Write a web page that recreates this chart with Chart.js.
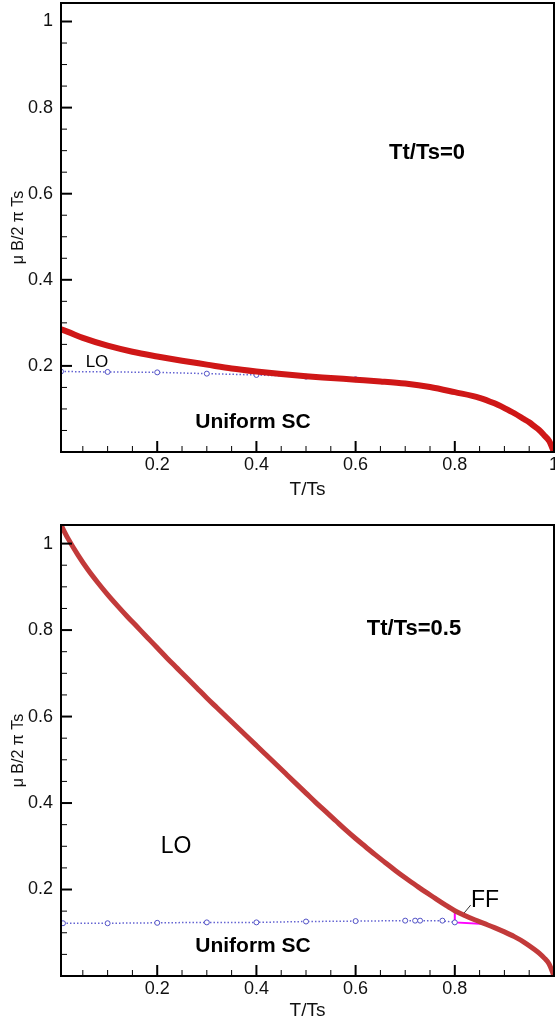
<!DOCTYPE html>
<html>
<head>
<meta charset="utf-8">
<script src="https://cdn.jsdelivr.net/npm/chart.js@4.4.1/dist/chart.umd.min.js"></script>
<style>
    html, body { margin: 0; padding: 0; background: #fff; }
    body { width: 555px; height: 1025px; position: relative; overflow: hidden; }
    canvas { position: absolute; left: 0; }
    #topChart { top: 0; }
    #bottomChart { top: 512px; }
</style>
</head>
<body>
<canvas id="topChart" width="555" height="505"></canvas>
<canvas id="bottomChart" width="555" height="513"></canvas>
<script>
// tick labels
const xTickValues = [0.2, 0.4, 0.6, 0.8, 1];
const xTickValuesBottom = [0.2, 0.4, 0.6, 0.8];
const yTickValues = [0.2, 0.4, 0.6, 0.8, 1];

// Tt/Ts=0 panel
const topRedX = [0.006, 0.02, 0.05, 0.1, 0.15, 0.2, 0.25, 0.3, 0.35, 0.4, 0.45, 0.5, 0.55, 0.6, 0.65, 0.7, 0.75, 0.8, 0.85, 0.88, 0.9, 0.92, 0.94, 0.95, 0.96, 0.97, 0.98, 0.99, 1.0];
const topRedY = [0.285, 0.279, 0.265, 0.247, 0.233, 0.222, 0.212, 0.203, 0.194, 0.187, 0.181, 0.176, 0.172, 0.168, 0.164, 0.159, 0.151, 0.139, 0.126, 0.113, 0.102, 0.090, 0.076, 0.069, 0.060, 0.051, 0.039, 0.026, 0.0];
const topBlueX = [0.006, 0.1, 0.2, 0.3, 0.4, 0.5, 0.6];
const topBlueY = [0.187, 0.186, 0.185, 0.182, 0.179, 0.175, 0.169];

// Tt/Ts=0.5 panel
const botRedX = [0.006, 0.02, 0.04, 0.06, 0.08, 0.1, 0.12, 0.14, 0.16, 0.18, 0.2, 0.22, 0.24, 0.26, 0.28, 0.3, 0.32, 0.34, 0.36, 0.38, 0.4, 0.42, 0.44, 0.46, 0.48, 0.5, 0.52, 0.54, 0.56, 0.58, 0.6, 0.62, 0.64, 0.66, 0.68, 0.7, 0.72, 0.74, 0.76, 0.78, 0.8, 0.82, 0.84, 0.86, 0.88, 0.9, 0.92, 0.94, 0.96, 0.97, 0.98, 0.99, 1.0];
const botRedY = [1.043, 1.012, 0.974, 0.940, 0.910, 0.882, 0.856, 0.831, 0.807, 0.783, 0.759, 0.735, 0.712, 0.689, 0.666, 0.643, 0.621, 0.599, 0.577, 0.555, 0.533, 0.511, 0.489, 0.467, 0.445, 0.423, 0.401, 0.380, 0.359, 0.338, 0.318, 0.299, 0.280, 0.262, 0.244, 0.227, 0.211, 0.195, 0.180, 0.165, 0.151, 0.140, 0.130, 0.121, 0.112, 0.102, 0.091, 0.078, 0.062, 0.053, 0.042, 0.028, 0.0];
const botBlueX = [0.01, 0.1, 0.2, 0.3, 0.4, 0.5, 0.6, 0.7, 0.72, 0.73, 0.775, 0.8];
const botBlueY = [0.122, 0.122, 0.123, 0.124, 0.124, 0.126, 0.127, 0.128, 0.128, 0.128, 0.128, 0.124];
const ffX = [0.8, 0.8, 0.859];
const ffY = [0.151, 0.124, 0.120];
const ffLeaderX = [0.814, 0.832];
const ffLeaderY = [0.139, 0.164];

const FONT = "'Liberation Sans', Arial, sans-serif";

function pairs(xs, ys) {
    return xs.map((x, i) => ({ x: x, y: ys[i] }));
}

// black box + inside ticks (major and minor) like the original plot
const frameTicks = {
    id: 'frameTicks',
    afterDatasetsDraw(chart) {
        const ctx = chart.ctx;
        const a = chart.chartArea;
        const xs = chart.scales.x;
        const ys = chart.scales.y;
        ctx.save();
        ctx.strokeStyle = '#000';
        for (let i = 1; i <= 20; i++) {
            const v = i * 0.05;
            const major = i % 4 === 0;
            const len = major ? 11 : 6;
            ctx.lineWidth = major ? 2 : 1;
            if (v >= xs.min && v <= xs.max) {
                const px = xs.getPixelForValue(v);
                ctx.beginPath();
                ctx.moveTo(px, a.bottom);
                ctx.lineTo(px, a.bottom - len);
                ctx.stroke();
            }
            if (v > ys.min && v <= ys.max) {
                const py = ys.getPixelForValue(v);
                ctx.beginPath();
                ctx.moveTo(a.left, py);
                ctx.lineTo(a.left + len, py);
                ctx.stroke();
            }
        }
        ctx.lineWidth = 2;
        ctx.strokeRect(a.left, a.top, a.right - a.left, a.bottom - a.top);
        ctx.restore();
    }
};

// free text labels, positions given in canvas pixels
const textLabels = {
    id: 'textLabels',
    afterDraw(chart) {
        const items = chart.options.plugins.textLabels.items || [];
        const ctx = chart.ctx;
        ctx.save();
        ctx.fillStyle = '#000';
        ctx.textAlign = 'center';
        ctx.textBaseline = 'middle';
        items.forEach((t) => {
            ctx.font = t.font;
            ctx.fillText(t.text, t.x, t.y);
        });
        ctx.restore();
    }
};

function makeOptions(cfg) {
    return {
        responsive: false,
        animation: false,
        devicePixelRatio: 1,
        layout: { autoPadding: false, padding: { left: 0, right: 1, top: cfg.padTop, bottom: 0 } },
        plugins: {
            legend: { display: false },
            tooltip: { enabled: false },
            textLabels: { items: cfg.texts }
        },
        scales: {
            x: {
                type: 'linear',
                min: 0.006,
                max: 1,
                grid: { display: false, drawTicks: false },
                border: { display: false },
                afterBuildTicks: (scale) => {
                    scale.ticks = cfg.xTicks.map((v) => ({ value: v }));
                },
                afterFit: (scale) => {
                    scale.height = cfg.xHeight;
                    scale.paddingLeft = 0;
                    scale.paddingRight = 0;
                },
                ticks: {
                    padding: 4,
                    color: '#111',
                    maxRotation: 0,
                    autoSkip: false,
                    font: { family: FONT, size: 18, lineHeight: 1 },
                    callback: (v) => String(v)
                },
                title: {
                    display: true,
                    text: 'T/Ts',
                    color: '#111',
                    font: { family: FONT, size: 19, lineHeight: 1 },
                    padding: { top: 0, bottom: cfg.titlePad }
                }
            },
            y: {
                type: 'linear',
                min: 0,
                max: 1.043,
                grid: { display: false, drawTicks: false },
                border: { display: false },
                afterBuildTicks: (scale) => {
                    scale.ticks = yTickValues.map((v) => ({ value: v }));
                },
                afterFit: (scale) => {
                    scale.width = 61;
                    scale.paddingTop = 0;
                    scale.paddingBottom = 0;
                },
                ticks: {
                    padding: 8,
                    color: '#111',
                    autoSkip: false,
                    font: { family: FONT, size: 18, lineHeight: 1 },
                    callback: (v) => String(v)
                },
                title: {
                    display: true,
                    text: 'μ B/2 π Ts',
                    color: '#111',
                    font: { family: FONT, size: 16, lineHeight: 1 },
                    padding: { top: 11, bottom: 0 }
                }
            }
        }
    };
}

const redLine = (data, color, width) => ({
    data: data,
    showLine: true,
    borderColor: color,
    borderWidth: width,
    pointRadius: 0,
    cubicInterpolationMode: 'monotone',
    fill: false
});

const blueDots = (data) => ({
    data: data,
    showLine: true,
    borderColor: '#6464d2',
    borderWidth: 1.5,
    borderDash: [1.5, 2],
    pointRadius: 2.5,
    pointBorderColor: '#5252c6',
    pointBackgroundColor: '#ffffff',
    pointBorderWidth: 1,
    fill: false
});

new Chart(document.getElementById('topChart'), {
    type: 'scatter',
    data: {
        datasets: [
            redLine(pairs(topRedX, topRedY), '#cf1717', 6),
            blueDots(pairs(topBlueX, topBlueY))
        ]
    },
    options: makeOptions({
        padTop: 3,
        xHeight: 53,
        titlePad: 6,
        xTicks: xTickValues,
        texts: [
            { text: 'Tt/Ts=0', x: 427, y: 153, font: 'bold 22px ' + FONT },
            { text: 'LO', x: 97, y: 362, font: '17px ' + FONT },
            { text: 'Uniform SC', x: 253, y: 422, font: 'bold 21px ' + FONT }
        ]
    }),
    plugins: [frameTicks, textLabels]
});

new Chart(document.getElementById('bottomChart'), {
    type: 'scatter',
    data: {
        datasets: [
            redLine(pairs(botRedX, botRedY), '#c23a3a', 5),
            blueDots(pairs(botBlueX, botBlueY)),
            {
                data: pairs(ffX, ffY),
                showLine: true,
                borderColor: '#ff00ff',
                borderWidth: 2,
                pointRadius: 0,
                fill: false
            },
            {
                data: pairs(ffLeaderX, ffLeaderY),
                showLine: true,
                borderColor: '#333',
                borderWidth: 1,
                pointRadius: 0,
                fill: false
            }
        ]
    },
    options: makeOptions({
        padTop: 13,
        xHeight: 49,
        titlePad: 5,
        xTicks: xTickValuesBottom,
        texts: [
            { text: 'Tt/Ts=0.5', x: 414, y: 117, font: 'bold 22px ' + FONT },
            { text: 'LO', x: 176, y: 335, font: '23px ' + FONT },
            { text: 'Uniform SC', x: 253, y: 434, font: 'bold 21px ' + FONT },
            { text: 'FF', x: 485, y: 389, font: '23px ' + FONT }
        ]
    }),
    plugins: [frameTicks, textLabels]
});
</script>
</body>
</html>
